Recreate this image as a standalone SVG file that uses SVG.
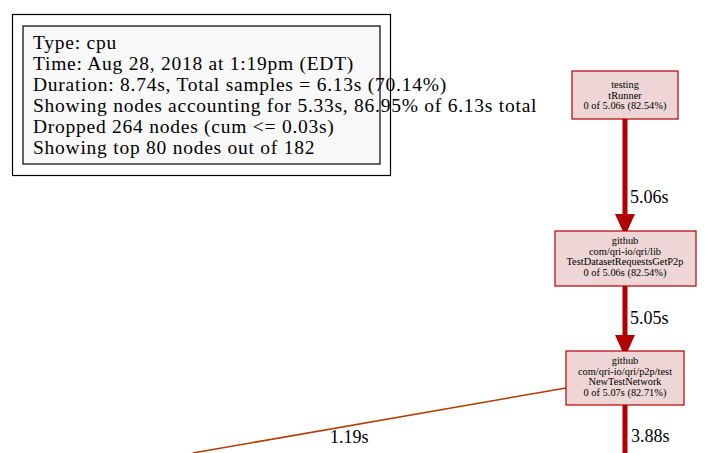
<svg xmlns="http://www.w3.org/2000/svg" width="709" height="453" viewBox="0 0 709 453">
<style>
.legend{font-family:"Liberation Serif","Times New Roman",serif;font-size:19.5px;letter-spacing:0.75px;fill:#000}
.node rect{fill:#edd6d5;stroke:#b20000;stroke-width:1.2}
.node text{font-family:"Liberation Serif","Times New Roman",serif;font-size:10.4px;fill:#000;text-anchor:middle}
.elabel{font-family:"Liberation Serif","Times New Roman",serif;font-size:18px;fill:#000}
.hot{stroke:#b20000;stroke-width:5;fill:none}
.warm{stroke:#b23c00;stroke-width:1.5;fill:none}
</style>
<rect width="709" height="453" fill="#ffffff"/>
<g id="legend">
<rect x="12.5" y="14.5" width="378" height="161" fill="none" stroke="#000" stroke-width="1.2"/>
<rect x="23" y="26" width="357" height="138" fill="#f8f8f8" stroke="#000" stroke-width="1.2"/>
<text class="legend" x="33" y="49">Type: cpu</text>
<text class="legend" x="33" y="70">Time: Aug 28, 2018 at 1:19pm (EDT)</text>
<text class="legend" x="33" y="91">Duration: 8.74s, Total samples = 6.13s (70.14%)</text>
<text class="legend" x="33" y="112">Showing nodes accounting for 5.33s, 86.95% of 6.13s total</text>
<text class="legend" x="33" y="133">Dropped 264 nodes (cum &lt;= 0.03s)</text>
<text class="legend" x="33" y="154">Showing top 80 nodes out of 182</text>
</g>
<g id="connectors">
<line class="hot" x1="625" y1="119" x2="625" y2="216"/>
<polygon points="615,214 635,214 625,236" fill="#b20000"/>
<text class="elabel" x="630" y="203">5.06s</text>
<line class="hot" x1="625" y1="286" x2="625" y2="337"/>
<polygon points="615,335 635,335 625,357" fill="#b20000"/>
<text class="elabel" x="630" y="324">5.05s</text>
<line class="hot" x1="625" y1="405" x2="625" y2="453"/>
<text class="elabel" x="631" y="442">3.88s</text>
<line class="warm" x1="566" y1="388" x2="193" y2="453"/>
<text class="elabel" x="330" y="443">1.19s</text>
</g>
<g id="node1" class="node">
<rect x="572" y="71" width="106" height="48"/>
<text x="625" y="88">testing</text>
<text x="625" y="98.7">tRunner</text>
<text x="625" y="109.4">0 of 5.06s (82.54%)</text>
</g>
<g id="node2" class="node">
<rect x="555" y="231" width="141" height="55"/>
<text x="625" y="244">github</text>
<text x="625" y="254.7">com/qri-io/qri/lib</text>
<text x="625" y="265.4">TestDatasetRequestsGetP2p</text>
<text x="625" y="276.1">0 of 5.06s (82.54%)</text>
</g>
<g id="node3" class="node">
<rect x="566" y="351" width="118" height="54"/>
<text x="625" y="364">github</text>
<text x="625" y="374.7">com/qri-io/qri/p2p/test</text>
<text x="625" y="385.4">NewTestNetwork</text>
<text x="625" y="396.1">0 of 5.07s (82.71%)</text>
</g>
</svg>
